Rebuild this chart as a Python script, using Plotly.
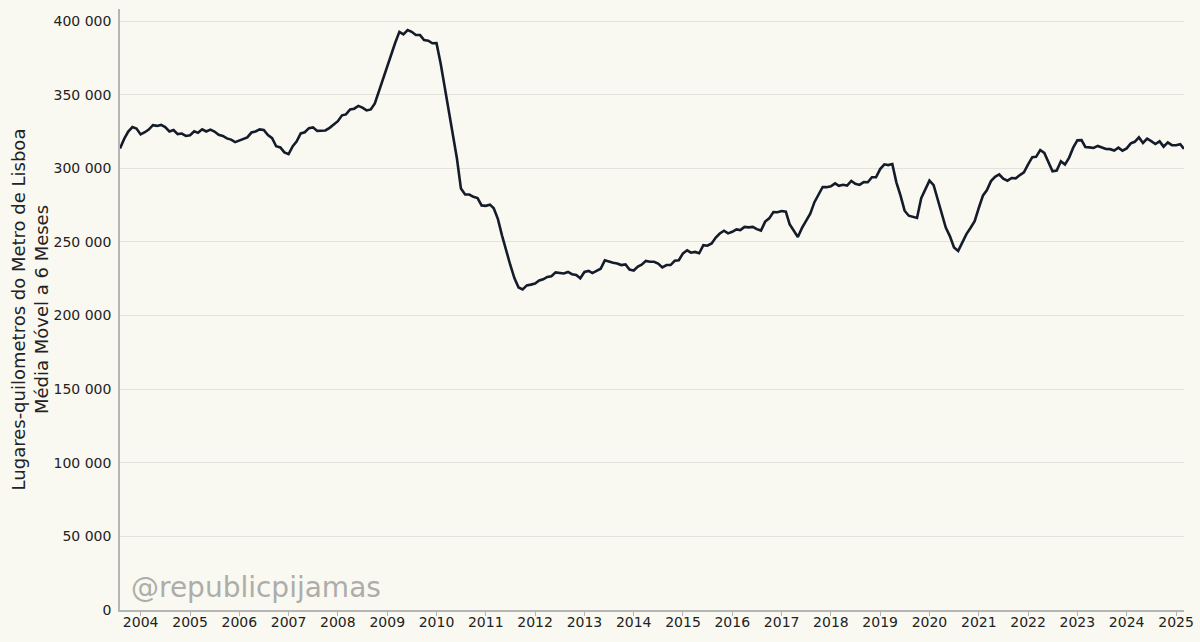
import pandas as pd
import plotly.graph_objects as go

# Monthly 6-month moving average of seat-km (Aug 2003 .. Mar 2025)
start_month = "2003-08-01"
values = [
    313500, 320000, 325000, 328000, 327000, 323000, 324500, 326300, 329300, 328800,
    329500, 328000, 325000, 326000, 323200, 323600, 322000, 322500, 325200, 324100,
    326500, 325000, 326300, 325000, 322800, 322000, 320300, 319500, 317800, 318800,
    320300, 321000, 324300, 325000, 326400, 326000, 322600, 320500, 315000, 314200,
    310800, 309600, 315000, 318200, 323700, 324500, 327300, 327800, 325400, 325400,
    325700, 327500, 329600, 332000, 336000, 336600, 340000, 340500, 342400, 341200,
    339300, 340000, 344000, 352800, 360000, 369000, 378700, 385300, 392700, 391000,
    393900, 392700, 390500, 390500, 387100, 386700, 384900, 385000, 371000, 356000,
    339500, 322800, 306800, 286200, 282200, 282200, 280600, 279800, 274800, 274500,
    275300, 272900, 265500, 254500, 244000, 234500, 225400, 219100, 217800, 220500,
    221000, 221700, 223800, 224600, 226200, 226700, 229300, 229000, 228600, 229600,
    228100, 227500, 225300, 229600, 230300, 228800, 230400, 231800, 237500, 236500,
    235800, 235400, 234300, 234700, 231200, 230600, 233200, 234500, 237100, 236500,
    236500, 235300, 232700, 234300, 234300, 237200, 237600, 242200, 244300, 242700,
    243200, 242300, 247800, 247400, 249000, 253000, 255700, 257600, 255800, 256900,
    258500, 258000, 260200, 259900, 260200, 258700, 257700, 263800, 266000, 270300,
    270200, 271000, 270500, 262000, 257500, 253300, 259500, 264500, 269200, 277000,
    282200, 287300, 287200, 287800, 289800, 288100, 288800, 288300, 291400, 289500,
    288700, 290600, 290500, 293900, 293900, 299500, 302700, 302200, 302900, 290500,
    281500, 271200, 267800, 267100, 266300, 279700, 285100, 291600, 288500, 278800,
    269500, 259800, 253800, 246300, 243900, 250200, 255300, 259600, 264100, 273200,
    281600, 285000, 291300, 294200, 295800, 293000, 291600, 293400, 293200, 295400,
    297200, 302700, 307600, 307800, 312400, 310500, 304200, 298000, 298500, 304800,
    302500, 307300, 314000, 319000, 319100, 314500, 314200, 313800, 315200, 314000,
    313100, 313000, 312100, 314000, 312000, 313500, 316900, 318000, 321000, 317200,
    320200, 318500, 316500, 318300, 314700, 317600, 315700, 315700, 316400, 313200,
]
dates = pd.date_range(start_month, periods=len(values), freq="MS")

year_ticks = [f"{y}-01-01" for y in range(2004, 2026)]
year_labels = [str(y) for y in range(2004, 2026)]
y_ticks = [0, 50000, 100000, 150000, 200000, 250000, 300000, 350000, 400000]

y_title = "Lugares-quilometros do Metro de Lisboa<br>Média Móvel a 6 Meses"
watermark = "@republicpijamas"

BG = "#FAF9F1"
FONT = "DejaVu Sans"

fig = go.Figure()
fig.add_trace(go.Scatter(
    x=dates, y=values, mode="lines",
    line=dict(color="#141c2b", width=2.6),
    hoverinfo="skip", showlegend=False,
))

fig.update_layout(
    width=1200, height=642,
    margin=dict(l=120, r=16, t=9, b=32, autoexpand=False),
    paper_bgcolor=BG, plot_bgcolor=BG,
    font=dict(family=FONT, color="#222222", size=14),
    separators=". ",
    showlegend=False,
)

fig.update_xaxes(
    range=[dates[0], dates[-1]],
    tickmode="array", tickvals=year_ticks, ticktext=year_labels,
    ticks="outside", ticklen=4, tickwidth=1.2, tickcolor="#b5b5b5",
    ticklabelstandoff=-6,
    showline=True, linecolor="#b5b5b5", linewidth=1.5,
    showgrid=False, zeroline=False, automargin=False,
    tickfont=dict(family=FONT, size=14, color="#222222"),
)

fig.update_yaxes(
    range=[0, 408200],
    tickmode="array", tickvals=y_ticks, tickformat=",d",
    ticks="", ticklabelstandoff=4,
    showline=True, linecolor="#b5b5b5", linewidth=1.5,
    showgrid=True, gridcolor="#e3e2dc", gridwidth=1,
    zeroline=False, automargin=False,
    tickfont=dict(family=FONT, size=14, color="#222222"),
    title=dict(text=y_title, font=dict(family=FONT, size=18, color="#222222"), standoff=0),
)

fig.add_annotation(
    text=watermark, xref="paper", yref="paper",
    x=0.008, y=0.037, xanchor="left", yanchor="middle",
    showarrow=False,
    font=dict(family=FONT, size=28, color="#adadaa"),
)

fig.write_html(
    "out.html",
    config={"displayModeBar": False},
    post_script="document.body.style.margin='0';document.body.style.background='" + BG + "';",
)
